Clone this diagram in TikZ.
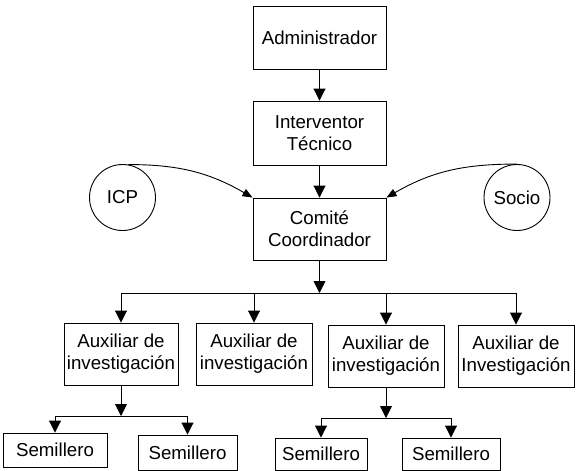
\documentclass[tikz,border=0pt]{standalone}
\usepackage{fontspec}
\setmainfont{Liberation Sans}
\usetikzlibrary{arrows.meta}
\begin{document}
\begin{tikzpicture}[x=1pt,y=1pt,
  lbl/.style={font=\fontsize{18.7}{22}\selectfont},
  box/.style={lbl, draw, line width=0.9pt, inner sep=0pt, align=center},
  circ/.style={lbl, draw, circle, line width=0.9pt, minimum size=66pt, inner sep=0pt},
  arr/.style={line width=0.9pt, -{Triangle[length=12pt,width=12pt]}},
  carr/.style={line width=0.9pt, -{Triangle[length=10pt,width=8pt]}},
  ln/.style={line width=0.9pt}]
\useasboundingbox (0,0) rectangle (576,-471);

% main chain
\node[box, minimum width=133pt, minimum height=63pt] (adm) at (319.5,-37.5) {Administrador};
\node[box, minimum width=133pt, minimum height=64pt] (int) at (319.5,-133) {Interventor\\Técnico};
\node[box, minimum width=133pt, minimum height=62pt] (com) at (319.5,-229) {Comité\\Coordinador};

% external parties
\node[circ] (icp) at (122.5,-197.5) {ICP};
\node[circ] (soc) at (517,-197.5) {Socio};

% assistants
\node[box, minimum width=114pt, minimum height=62pt] (aux1) at (121,-354) {Auxiliar de\\investigación};
\node[box, minimum width=116pt, minimum height=62pt] (aux2) at (254,-354) {Auxiliar de\\investigación};
\node[box, minimum width=116pt, minimum height=62pt] (aux3) at (386,-356) {Auxiliar de\\investigación};
\node[box, minimum width=116pt, minimum height=62pt] (aux4) at (516,-356) {Auxiliar de\\Investigación};

% seedbeds
\node[box, minimum width=104pt, minimum height=34pt] (sem1) at (55,-450) {Semillero};
\node[box, minimum width=99pt, minimum height=35pt] (sem2) at (187.5,-452.5) {Semillero};
\node[box, minimum width=92pt, minimum height=32pt] (sem3) at (321,-454) {Semillero};
\node[box, minimum width=98pt, minimum height=32pt] (sem4) at (451,-454) {Semillero};

% connectors
\draw[arr] (adm) -- (int);
\draw[arr] (int) -- (com);
\draw[carr] (icp.80) to[out=0,in=150] (com.north west);
\draw[carr] (soc.90) to[out=180,in=30] (com.north east);

\coordinate (bus) at (319.5,-293);
\draw[arr] (com) -- (bus);
\draw[ln] (bus -| aux1) -- (bus -| aux4);
\foreach \n in {aux1,aux2,aux3,aux4}
  \draw[arr] (bus -| \n) -- (\n);

\coordinate (sba) at (121,-416);
\draw[arr] (aux1) -- (sba);
\draw[ln] (sba -| sem1) -- (sba -| sem2);
\draw[arr] (sba -| sem1) -- (sem1);
\draw[arr] (sba -| sem2) -- (sem2);

\coordinate (sbb) at (386,-418);
\draw[arr] (aux3) -- (sbb);
\draw[ln] (sbb -| sem3) -- (sbb -| sem4);
\draw[arr] (sbb -| sem3) -- (sem3);
\draw[arr] (sbb -| sem4) -- (sem4);
\end{tikzpicture}
\end{document}
